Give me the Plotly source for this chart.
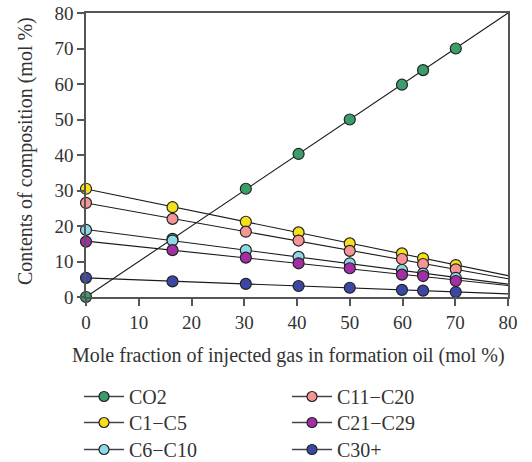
import numpy as np
import plotly.graph_objects as go

x_gas = [0, 16.4, 30.3, 40.3, 50.0, 59.9, 63.9, 70.1]
co2 = [0, 16.4, 30.5, 40.3, 50.0, 59.8, 63.9, 70.0]
c1_c5 = [30.5, 25.3, 21.2, 18.2, 15.1, 12.3, 10.9, 9.0]
c6_c10 = [18.9, 15.9, 13.2, 11.3, 9.5, 7.6, 6.6, 5.4]
c11_c20 = [26.5, 22.0, 18.4, 15.9, 13.0, 10.7, 9.3, 7.8]
c21_c29 = [15.6, 13.2, 11.1, 9.5, 8.1, 6.3, 5.9, 4.5]
c30_plus = [5.4, 4.4, 3.7, 3.1, 2.6, 2.0, 1.8, 1.4]
names_col1 = ["CO2", "C1\u2212C5", "C6\u2212C10"]
names_col2 = ["C11\u2212C20", "C21\u2212C29", "C30+"]
colors = {
    "CO2": "#3a9e6a",
    "C1\u2212C5": "#f5e01a",
    "C6\u2212C10": "#8fd9e6",
    "C11\u2212C20": "#f79595",
    "C21\u2212C29": "#a32ea6",
    "C30+": "#3b47a5",
}
values = {
    "CO2": co2,
    "C1\u2212C5": c1_c5,
    "C6\u2212C10": c6_c10,
    "C11\u2212C20": c11_c20,
    "C21\u2212C29": c21_c29,
    "C30+": c30_plus,
}
x_range = [0, 80]
y_range = [0, 80]

fig = go.Figure()
draw_order = ["CO2", "C1\u2212C5", "C11\u2212C20", "C6\u2212C10", "C21\u2212C29", "C30+"]
# linear trend lines extended across the axis
for name in draw_order:
    y = values[name]
    k, b = np.polyfit(x_gas, y, 1)
    if name == "CO2":
        k, b = 1.0, 0.0
    xs = np.array(x_range, dtype=float)
    fig.add_trace(go.Scatter(x=xs, y=k * xs + b, mode="lines",
                             line=dict(color="#1a1a1a", width=1.1),
                             showlegend=False, hoverinfo="skip", cliponaxis=False))
# data markers
for name in draw_order:
    fig.add_trace(go.Scatter(x=x_gas, y=values[name], mode="markers",
                             marker=dict(size=11, color=colors[name],
                                         line=dict(color="#222222", width=1.2)),
                             showlegend=False, cliponaxis=False))

font_family = "Liberation Serif, Times New Roman, serif"
text_color = "#333333"
tick_font = dict(family=font_family, size=19, color=text_color)
axis_common = dict(
    dtick=10, showgrid=False, zeroline=False, automargin=False,
    showline=True, linecolor="#555555", linewidth=1.5, mirror=True,
    ticks="outside", ticklen=7, tickcolor="#555555", tickwidth=1.5,
    tickfont=tick_font,
)
# plot area in pixels: x 86..508, y 13..297
PX_L, PX_R, PX_T, PX_B = 86, 508, 13, 297


def px_to_paper_x(px):
    return (px - PX_L) / (PX_R - PX_L)


def px_to_paper_y(py):
    return (PX_B - py) / (PX_B - PX_T)


legend_common = dict(orientation="v", xref="paper", yref="paper",
                     xanchor="left", yanchor="top",
                     font=dict(family=font_family, size=20, color=text_color),
                     bgcolor="rgba(0,0,0,0)", borderwidth=0, itemwidth=40,
                     tracegroupgap=0)
legend_layouts = {}
col_x = [79, 287]
row_top = [377, 403, 430]
for col, names in enumerate((names_col1, names_col2)):
    for row, name in enumerate(names):
        idx = col * 3 + row + 1
        leg_id = "legend" if idx == 1 else f"legend{idx}"
        fig.add_trace(go.Scatter(x=[None], y=[None], mode="lines+markers", name=name,
                                 legend=leg_id,
                                 line=dict(color="#444444", width=1.5),
                                 marker=dict(size=10, color=colors[name],
                                             line=dict(color="#222222", width=1.2))))
        legend_layouts[leg_id] = dict(**legend_common,
                                      x=px_to_paper_x(col_x[col]),
                                      y=px_to_paper_y(row_top[row]))

fig.update_layout(
    width=532, height=462,
    margin=dict(l=PX_L, r=532 - PX_R, t=PX_T, b=462 - PX_B, autoexpand=False),
    plot_bgcolor="white", paper_bgcolor="white",
    font=dict(family=font_family, size=19, color=text_color),
    xaxis=dict(**axis_common, range=x_range),
    yaxis=dict(**axis_common, range=y_range),
    showlegend=True,
    annotations=[
        dict(text="Mole fraction of injected gas in formation oil (mol %)",
             xref="paper", yref="paper",
             x=px_to_paper_x(288.5), y=px_to_paper_y(355),
             xanchor="center", yanchor="middle", showarrow=False,
             font=dict(family=font_family, size=20, color=text_color)),
        dict(text="Contents of composition (mol %)",
             xref="paper", yref="paper", textangle=-90,
             x=px_to_paper_x(25), y=px_to_paper_y(151),
             xanchor="center", yanchor="middle", showarrow=False,
             font=dict(family=font_family, size=20, color=text_color)),
    ],
    **legend_layouts,
)
fig.write_html("out.html")
